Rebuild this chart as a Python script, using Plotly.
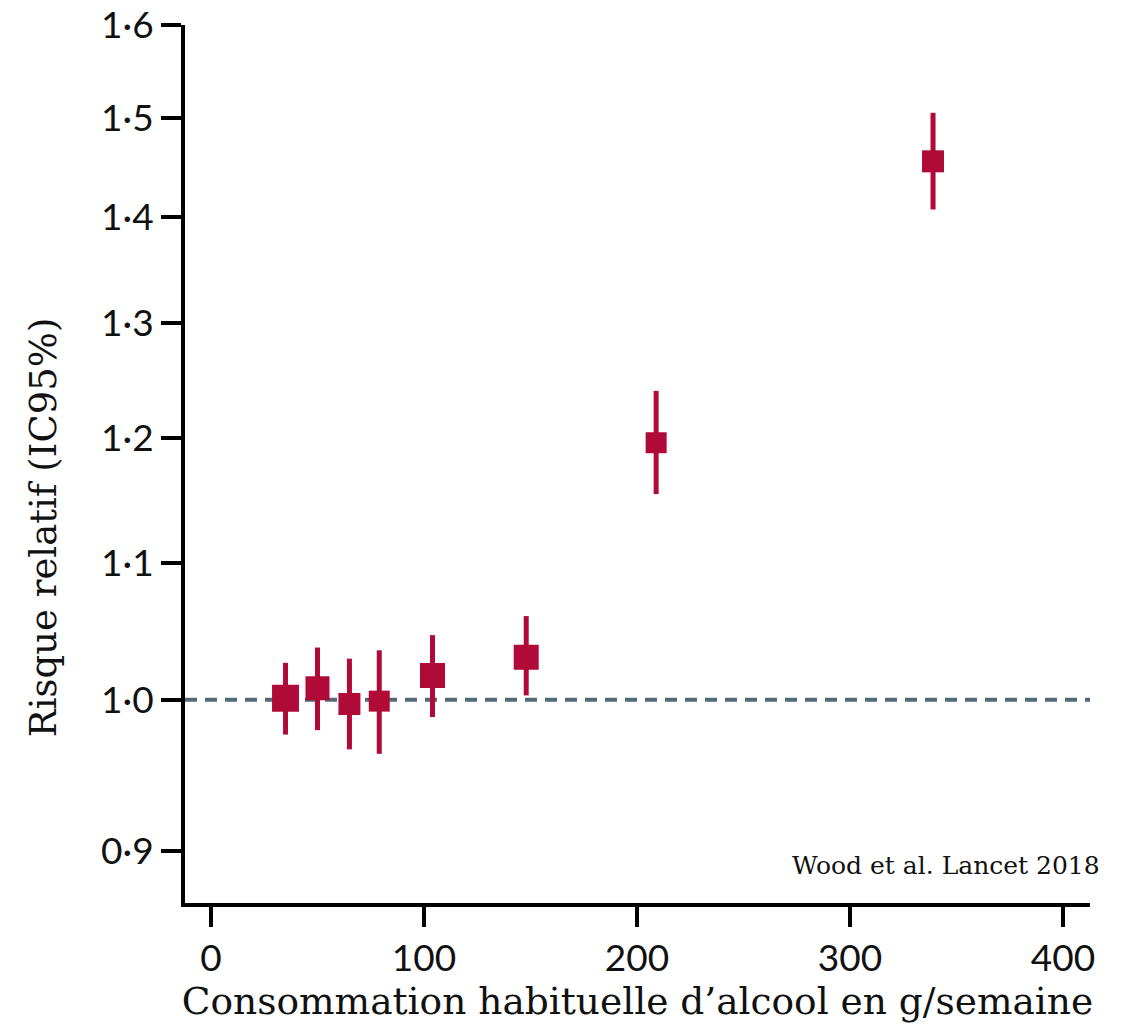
import plotly.graph_objects as go

# Data
conso = [35, 50, 65, 79, 104, 148, 209, 339]
rr = [1.001, 1.008, 0.997, 0.999, 1.017, 1.030, 1.196, 1.455]
ci_low = [0.976, 0.979, 0.966, 0.963, 0.988, 1.003, 1.154, 1.407]
ci_high = [1.026, 1.037, 1.029, 1.035, 1.046, 1.060, 1.240, 1.505]
marker_sizes = [27, 24, 22, 21, 25, 25, 21, 22]

y_tickvals = [0.9, 1.0, 1.1, 1.2, 1.3, 1.4, 1.5, 1.6]
y_ticktext = ["0·9", "1·0", "1·1", "1·2", "1·3", "1·4", "1·5", "1·6"]
x_tickvals = [0, 100, 200, 300, 400]

err_plus = [h - v for h, v in zip(ci_high, rr)]
err_minus = [v - l for v, l in zip(rr, ci_low)]

RED = "#B00A38"
SERIF = "DejaVu Serif"
fig = go.Figure()
fig.add_trace(go.Scatter(
    x=conso, y=rr, mode="markers",
    marker=dict(symbol="square", size=marker_sizes, color=RED, opacity=1, line=dict(width=0)),
    error_y=dict(type="data", symmetric=False, array=err_plus, arrayminus=err_minus,
                 color=RED, thickness=5, width=0),
    showlegend=False, hoverinfo="skip",
))

fig.add_shape(type="line", xref="paper", yref="y", x0=0, x1=1, y0=1.0, y1=1.0,
              line=dict(color="#546A76", width=4, dash="12px,8px"), layer="below")

fig.add_annotation(text="Wood et al. Lancet 2018", xref="paper", yref="paper",
                   x=1.013, y=0.043, xanchor="right", yanchor="middle", showarrow=False,
                   font=dict(family=SERIF, size=25, color="#111111"))

fig.add_annotation(text="Risque relatif (IC95%)", xref="paper", yref="paper",
                   x=-0.157, y=0.428, xanchor="center", yanchor="middle", textangle=-90,
                   showarrow=False, font=dict(family=SERIF, size=37, color="#111111"))

fig.update_layout(
    width=1127, height=1029,
    margin=dict(l=185, r=37, t=25, b=126),
    paper_bgcolor="white", plot_bgcolor="white",
    xaxis=dict(range=[-12.2, 412.7], tickvals=x_tickvals, showgrid=False, zeroline=False,
               automargin=False,
               showline=True, linewidth=4, linecolor="black",
               ticks="outside", ticklen=20, tickwidth=4, tickcolor="black",
               tickfont=dict(family="Lato", size=37, color="#111111"),
               title=dict(text="Consommation habituelle d’alcool en g/semaine",
                          font=dict(family=SERIF, size=37.5, color="#111111"),
                          standoff=8)),
    yaxis=dict(type="log", range=[-0.0615, 0.2041], tickvals=y_tickvals, ticktext=y_ticktext,
               showgrid=False, zeroline=False, automargin=False,
               showline=True, linewidth=4, linecolor="black",
               ticks="outside", ticklen=20, tickwidth=4, tickcolor="black",
               tickfont=dict(family="Lato", size=37, color="#111111")),
)

fig.write_html("out.html")
